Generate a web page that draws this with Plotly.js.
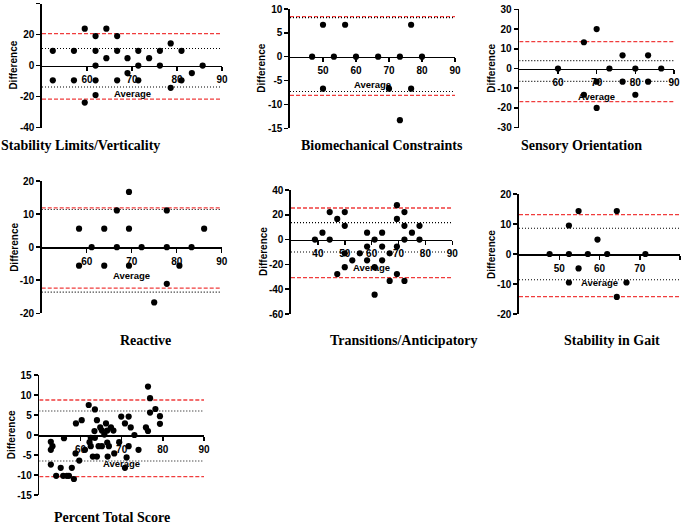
<!DOCTYPE html>
<html><head><meta charset="utf-8">
<script src="https://cdn.plot.ly/plotly-3.0.1.min.js"></script>
<style>html,body{margin:0;padding:0;background:#fff}</style>
</head><body><div id="chart" style="width:685px;height:525px"></div>
<script>
// ---------------- DATA ----------------
const panelTitles = ["Stability Limits/Verticality", "Biomechanical Constraints", "Sensory Orientation",
  "Reactive", "Transitions/Anticipatory", "Stability in Gait", "Percent Total Score"];
const yAxisLabel = "Difference";
const xAxisLabel = "Average";

// Stability Limits/Verticality
const slvAvg  = [52.4,52.4,57.1,57.1,59.5,59.5,61.9,61.9,61.9,61.9,61.9,64.3,64.3,66.7,66.7,66.7,69.0,69.0,71.4,71.4,71.4,73.8,76.2,76.2,78.6,78.6,81.0,81.0,83.3,85.7];
const slvDiff = [9.5,-9.5,9.5,-9.5,23.8,-23.8,19.0,9.5,0,-9.5,-19.0,23.8,4.8,19.0,9.5,-9.5,4.8,-4.8,9.5,0,-9.5,4.8,9.5,0,14.3,-14.3,9.5,-9.5,-4.8,0];
const slvLoa = [20.6, -21.6]; const slvCi = [11.0, -13.8];
const slvXTicks = [60,70,80,90]; const slvYTicks = [-40,-20,0,20,40];

// Biomechanical Constraints
const bcAvg  = [46.7,50.0,50.0,53.3,56.7,60.0,66.7,70.0,73.3,73.3,76.7,76.7,80.0];
const bcDiff = [0,6.7,-6.7,0,6.7,0,0,-6.7,0,-13.3,6.7,-6.7,0];
const bcLoa = [8.4, -8.1]; const bcCi = [8.2, -7.3];
const bcXTicks = [50,60,70,80,90]; const bcYTicks = [-15,-10,-5,0,5,10];

// Sensory Orientation
const soAvg  = [60.0,66.7,66.7,70.0,70.0,70.0,73.3,76.7,76.7,80.0,80.0,83.3,83.3,86.7];
const soDiff = [0,13.3,-13.3,20.0,-6.7,-20.0,0,6.7,-6.7,0,-13.3,6.7,-6.7,0];
const soLoa = [13.6, -16.8]; const soCi = [4.0, -6.5];
const soXTicks = [60,70,80,90]; const soYTicks = [-30,-20,-10,0,10,20,30];

// Reactive
const reAvg  = [58.3,58.3,61.1,63.9,63.9,66.7,66.7,69.4,69.4,69.4,72.2,75.0,77.8,77.8,77.8,80.6,83.3,86.1];
const reDiff = [5.6,-5.6,0,5.6,-5.6,11.1,0,16.7,5.6,-5.6,0,-16.7,11.1,0,-11.1,-5.6,0,5.6];
const reLoa = [11.9, -12.4]; const reCi = [11.4, -13.6];
const reXTicks = [60,70,80,90]; const reYTicks = [-20,-10,0,10,20];

// Transitions/Anticipatory
const taAvg  = [38.9,41.7,44.4,44.4,47.2,47.2,50.0,50.0,50.0,50.0,52.8,55.6,58.3,58.3,58.3,61.1,61.1,61.1,63.9,63.9,63.9,66.7,66.7,69.4,69.4,69.4,69.4,72.2,72.2,72.2,72.2,75.0,77.8,77.8];
const taDiff = [0,5.6,22.2,0,16.7,-27.8,22.2,11.1,-11.1,-22.2,-16.7,-11.1,5.6,-5.6,-16.7,0,-44.4,-22.2,5.6,-5.6,-16.7,-11.1,-33.3,27.8,16.7,-5.6,-27.8,22.2,11.1,0,-33.3,5.6,11.1,0];
const taLoa = [25.5, -30.6]; const taCi = [13.7, -10.0];
const taXTicks = [40,50,60,70,80,90]; const taYTicks = [-60,-40,-20,0,20,40];

// Stability in Gait
const sgAvg  = [47.6,52.4,52.4,52.4,54.8,54.8,57.1,59.5,61.9,64.3,64.3,66.7,71.4];
const sgDiff = [0,9.5,0,-9.5,14.3,-4.8,0,4.8,0,14.3,-14.3,-9.5,0];
const sgLoa = [13.1, -14.2]; const sgCi = [8.6, -8.6];
const sgXTicks = [50,60,70,80]; const sgYTicks = [-20,-10,0,10,20];

// Percent Total Score
const ptAvg  = [52.8,53.2,52.8,52.8,56.0,54.1,55.2,55.8,56.7,57.2,57.9,58.4,58.9,58.8,59.7,60.3,61.1,62.0,62.2,62.5,62.5,63.0,63.5,63.5,63.4,64.0,64.0,64.4,64.8,65.2,65.2,65.8,66.2,66.5,66.5,66.9,66.6,67.4,68.0,68.2,69.4,69.9,70.8,70.8,71.2,71.7,71.7,72.2,73.1,74.1,75.9,76.4,76.4,76.9,76.9,78.2,79.3,79.3];
const ptDiff = [-1.7,-2.8,-3.7,-7.4,-0.8,-10.2,-8.2,-10.2,-10.2,-10.2,-8.2,-11.0,2.9,-4.6,-6.4,3.7,-3.7,7.5,-1.8,-0.7,-2.8,-5.4,6.4,-0.7,1.0,3.7,-5.4,-2.8,1.9,-2.8,1.1,0.1,2.9,1.1,-1.9,-2.8,-5.4,1.9,1.1,-4.6,-1.8,4.6,2.9,-8.2,-5.6,-2.8,4.6,1.9,0,-3.7,1.9,1.0,12.1,9.2,5.6,6.5,4.7,2.8];
const ptLoa = [8.75, -10.4]; const ptCi = [6.0, -6.5];
const ptXTicks = [60,70,80,90]; const ptYTicks = [-15,-10,-5,0,5,10,15];

const xRanges = [[50,90],[40,90],[50,90],[50,90],[30,90],[40,80],[50,90]];
const yRanges = [[-40,40],[-15,10],[-30,30],[-20,20],[-60,40],[-20,20],[-15,15]];

// ---------------- LAYOUT (pixel frames) ----------------
const W = 685, H = 525;
const SANS = "Liberation Sans, Arial, sans-serif";
const SERIF = "Liberation Serif, Times New Roman, serif";
const frames = [
  {l:42,    r:222,   t:3.5, b:127.7, tx:80,    ty:145.5},
  {l:290,   r:455,   t:9,   b:128.3, tx:381.7, ty:145.5},
  {l:519.3, r:674,   t:9.3, b:127.7, tx:581.7, ty:145.5},
  {l:41.7,  r:221.7, t:181, b:313.3, tx:145,   ty:340},
  {l:291,   r:452.3, t:190, b:314,   tx:404.3, ty:340},
  {l:519,   r:680,   t:194, b:314,   tx:611.7, ty:340},
  {l:39.3,  r:204,   t:375, b:495,   tx:112,   ty:517}
];
const panels = [
  {x:slvAvg, y:slvDiff, loa:slvLoa, ci:slvCi, xt:slvXTicks, yt:slvYTicks},
  {x:bcAvg,  y:bcDiff,  loa:bcLoa,  ci:bcCi,  xt:bcXTicks,  yt:bcYTicks},
  {x:soAvg,  y:soDiff,  loa:soLoa,  ci:soCi,  xt:soXTicks,  yt:soYTicks},
  {x:reAvg,  y:reDiff,  loa:reLoa,  ci:reCi,  xt:reXTicks,  yt:reYTicks},
  {x:taAvg,  y:taDiff,  loa:taLoa,  ci:taCi,  xt:taXTicks,  yt:taYTicks},
  {x:sgAvg,  y:sgDiff,  loa:sgLoa,  ci:sgCi,  xt:sgXTicks,  yt:sgYTicks},
  {x:ptAvg,  y:ptDiff,  loa:ptLoa,  ci:ptCi,  xt:ptXTicks,  yt:ptYTicks}
];

const traces = [];
const layout = {
  width: W, height: H, margin: {l:0, r:0, t:0, b:0, pad:0},
  paper_bgcolor: "#fff", plot_bgcolor: "rgba(0,0,0,0)",
  showlegend: false, annotations: [],
  font: {family: SANS, color: "#000"}
};
const px2x = p => p / W;
const py2y = p => 1 - p / H;

panels.forEach((p, i) => {
  const f = frames[i];
  const n = i + 1;
  const xa = "x" + n, ya = "y" + n;
  const xr = xRanges[i], yr = yRanges[i];
  const yd = [py2y(f.b), py2y(f.t)];
  const zeroFrac = (0 - yr[0]) / (yr[1] - yr[0]);
  const xpos = yd[0] + zeroFrac * (yd[1] - yd[0]);
  const zeroPx = f.b - zeroFrac * (f.b - f.t);

  const lineStyles = [
    {v: p.loa[0], line: {color: "#f03c3c", width: 1.3, dash: "4px,2px"}},
    {v: p.loa[1], line: {color: "#f03c3c", width: 1.3, dash: "4px,2px"}},
    {v: p.ci[0],  line: {color: "#000", width: 1.1, dash: "1px,2px"}},
    {v: p.ci[1],  line: {color: "#000", width: 1.1, dash: "1px,2px"}}
  ];
  lineStyles.forEach(s => traces.push({
    type: "scatter", mode: "lines", x: [xr[0], xr[1]], y: [s.v, s.v],
    xaxis: xa, yaxis: ya, line: s.line, hoverinfo: "skip", cliponaxis: false
  }));
  traces.push({
    type: "scatter", mode: "markers", x: p.x, y: p.y, xaxis: xa, yaxis: ya,
    marker: {color: "#000", size: 6.2}, cliponaxis: false
  });

  const axKey = n === 1 ? "" : n;
  layout["xaxis" + axKey] = {
    domain: [px2x(f.l), px2x(f.r)], range: xr, anchor: "free", position: xpos,
    tickvals: p.xt, ticktext: p.xt.map(String), ticks: "outside", ticklen: 4, tickwidth: 1.5,
    tickcolor: "#000", showline: true, linewidth: 1.6, linecolor: "#000",
    showgrid: false, zeroline: false, automargin: false,
    tickfont: {family: SANS, size: 10, color: "#000", weight: "bold"}
  };
  layout["yaxis" + axKey] = {
    domain: yd, range: yr, anchor: xa,
    tickvals: p.yt, ticktext: p.yt.map(String), ticks: "outside", ticklen: 4, tickwidth: 1.5,
    tickcolor: "#000", showline: true, linewidth: 1.6, linecolor: "#000",
    showgrid: false, zeroline: false, automargin: false,
    tickfont: {family: SANS, size: 10, color: "#000", weight: "bold"}
  };

  layout.annotations.push({
    text: panelTitles[i], xref: "paper", yref: "paper", x: px2x(f.tx), y: py2y(f.ty),
    xanchor: "center", yanchor: "middle", showarrow: false,
    font: {family: SERIF, size: 14, color: "#000", weight: "bold"}
  });
  layout.annotations.push({
    text: yAxisLabel, xref: "paper", yref: "paper", x: px2x(f.l - 28), y: py2y((f.t + f.b) / 2),
    xanchor: "center", yanchor: "middle", showarrow: false, textangle: -90,
    font: {family: SANS, size: 10, color: "#000", weight: "bold"}
  });
  layout.annotations.push({
    text: xAxisLabel, xref: "paper", yref: "paper", x: px2x((f.l + f.r) / 2), y: py2y(zeroPx + 28),
    xanchor: "center", yanchor: "middle", showarrow: false,
    font: {family: SANS, size: 9.5, color: "#000", weight: "bold"}
  });
});

Plotly.newPlot("chart", traces, layout, {displayModeBar: false, staticPlot: true});
</script>
</body></html>
